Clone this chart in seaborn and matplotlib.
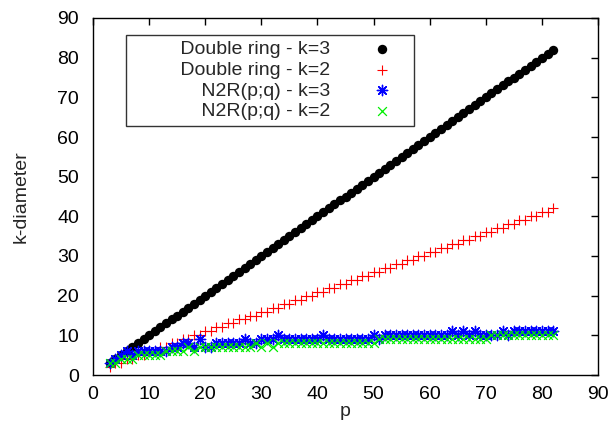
import matplotlib
matplotlib.use("Agg")
import matplotlib.pyplot as plt
import seaborn as sns
import pandas as pd

p = [3, 4, 5, 6, 7, 8, 9, 10, 11, 12,
     13, 14, 15, 16, 17, 18, 19, 20, 21, 22,
     23, 24, 25, 26, 27, 28, 29, 30, 31, 32,
     33, 34, 35, 36, 37, 38, 39, 40, 41, 42,
     43, 44, 45, 46, 47, 48, 49, 50, 51, 52,
     53, 54, 55, 56, 57, 58, 59, 60, 61, 62,
     63, 64, 65, 66, 67, 68, 69, 70, 71, 72,
     73, 74, 75, 76, 77, 78, 79, 80, 81, 82]

double_ring_k3 = [3, 4, 5, 6, 7, 8, 9, 10, 11, 12,
                  13, 14, 15, 16, 17, 18, 19, 20, 21, 22,
                  23, 24, 25, 26, 27, 28, 29, 30, 31, 32,
                  33, 34, 35, 36, 37, 38, 39, 40, 41, 42,
                  43, 44, 45, 46, 47, 48, 49, 50, 51, 52,
                  53, 54, 55, 56, 57, 58, 59, 60, 61, 62,
                  63, 64, 65, 66, 67, 68, 69, 70, 71, 72,
                  73, 74, 75, 76, 77, 78, 79, 80, 81, 82]

double_ring_k2 = [2, 3, 3, 4, 4, 5, 5, 6, 6, 7,
                  7, 8, 8, 9, 9, 10, 10, 11, 11, 12,
                  12, 13, 13, 14, 14, 15, 15, 16, 16, 17,
                  17, 18, 18, 19, 19, 20, 20, 21, 21, 22,
                  22, 23, 23, 24, 24, 25, 25, 26, 26, 27,
                  27, 28, 28, 29, 29, 30, 30, 31, 31, 32,
                  32, 33, 33, 34, 34, 35, 35, 36, 36, 37,
                  37, 38, 38, 39, 39, 40, 40, 41, 41, 42]

n2r_k3 = [3, 4, 5, 6, 5, 6, 6, 6, 6, 6,
          6, 7, 7, 8, 8, 7, 9, 7, 7, 8,
          8, 8, 8, 8, 9, 8, 8, 9, 9, 9,
          10, 9, 9, 9, 9, 9, 9, 9, 10, 9,
          9, 9, 9, 9, 9, 9, 9, 10, 9, 10,
          10, 10, 10, 10, 10, 10, 10, 10, 10, 10,
          10, 11, 10, 11, 10, 11, 10, 10, 10, 10,
          11, 10, 11, 11, 11, 11, 11, 11, 11, 11]

n2r_k2 = [3, 3, 4, 4, 4, 5, 5, 5, 5, 5,
          6, 6, 6, 6, 7, 6, 7, 7, 7, 7,
          7, 7, 7, 7, 7, 7, 8, 7, 8, 7,
          8, 8, 8, 8, 8, 8, 8, 8, 8, 8,
          8, 8, 8, 8, 8, 8, 8, 8, 9, 9,
          9, 9, 9, 9, 9, 9, 9, 9, 9, 9,
          9, 9, 9, 9, 9, 9, 9, 9, 10, 10,
          10, 10, 10, 10, 10, 10, 10, 10, 10, 10]

labels = ["Double ring - k=3", "Double ring - k=2",
          "N2R(p;q) - k=3", "N2R(p;q) - k=2"]
x_ticks = [0, 10, 20, 30, 40, 50, 60, 70, 80, 90]
y_ticks = [0, 10, 20, 30, 40, 50, 60, 70, 80, 90]

sns.set_style("white")
plt.rcParams["font.family"] = ["Liberation Sans", "DejaVu Sans"]

fig = plt.figure(figsize=(6.14, 4.42), dpi=100)
ax = fig.add_axes([93 / 614, 67 / 442, 505 / 614, 357 / 442])

df = pd.DataFrame({"p": p, "dr3": double_ring_k3, "dr2": double_ring_k2,
                   "n3": n2r_k3, "n2": n2r_k2})

pad = "         "
sns.scatterplot(data=df, x="p", y="dr3", ax=ax, color="black", marker="o",
                s=46, linewidth=0, label=pad + labels[0])
sns.scatterplot(data=df, x="p", y="dr2", ax=ax, color="#ff0000", marker="+",
                s=52, linewidth=0.8, label=pad + labels[1])
sns.scatterplot(data=df, x="p", y="n3", ax=ax, color="#0000ff", marker=(8, 2, 0),
                s=55, linewidth=1.0, label=pad + labels[2])
sns.scatterplot(data=df, x="p", y="n2", ax=ax, color="#00ee00", marker="x",
                s=40, linewidth=0.9, label=pad + labels[3])

ax.set_xlim(0, 90)
ax.set_ylim(0, 90)
ax.set_xticks(x_ticks)
ax.set_yticks(y_ticks)
ax.tick_params(direction="in", top=True, right=True, length=5, width=1,
               labelsize=14, color="black", labelcolor="black")
ax.tick_params(axis="x", pad=8)
ax.tick_params(axis="y", pad=10)
for s in ax.spines.values():
    s.set_visible(True)
    s.set_color("black")
    s.set_linewidth(1.0)

ax.set_xlabel("p", fontsize=14, labelpad=0)
ax.set_ylabel("k-diameter", fontsize=14, labelpad=20)

leg = ax.legend(loc="upper left", bbox_to_anchor=(33 / 505, 1 - 17 / 357),
                markerfirst=False, fontsize=14, frameon=True, fancybox=False,
                borderpad=0.3, labelspacing=0.15, handletextpad=1.33,
                handlelength=2.7, borderaxespad=0)
leg.get_frame().set_edgecolor("black")
leg.get_frame().set_linewidth(1.0)

fig.savefig("out.png", dpi=100)
